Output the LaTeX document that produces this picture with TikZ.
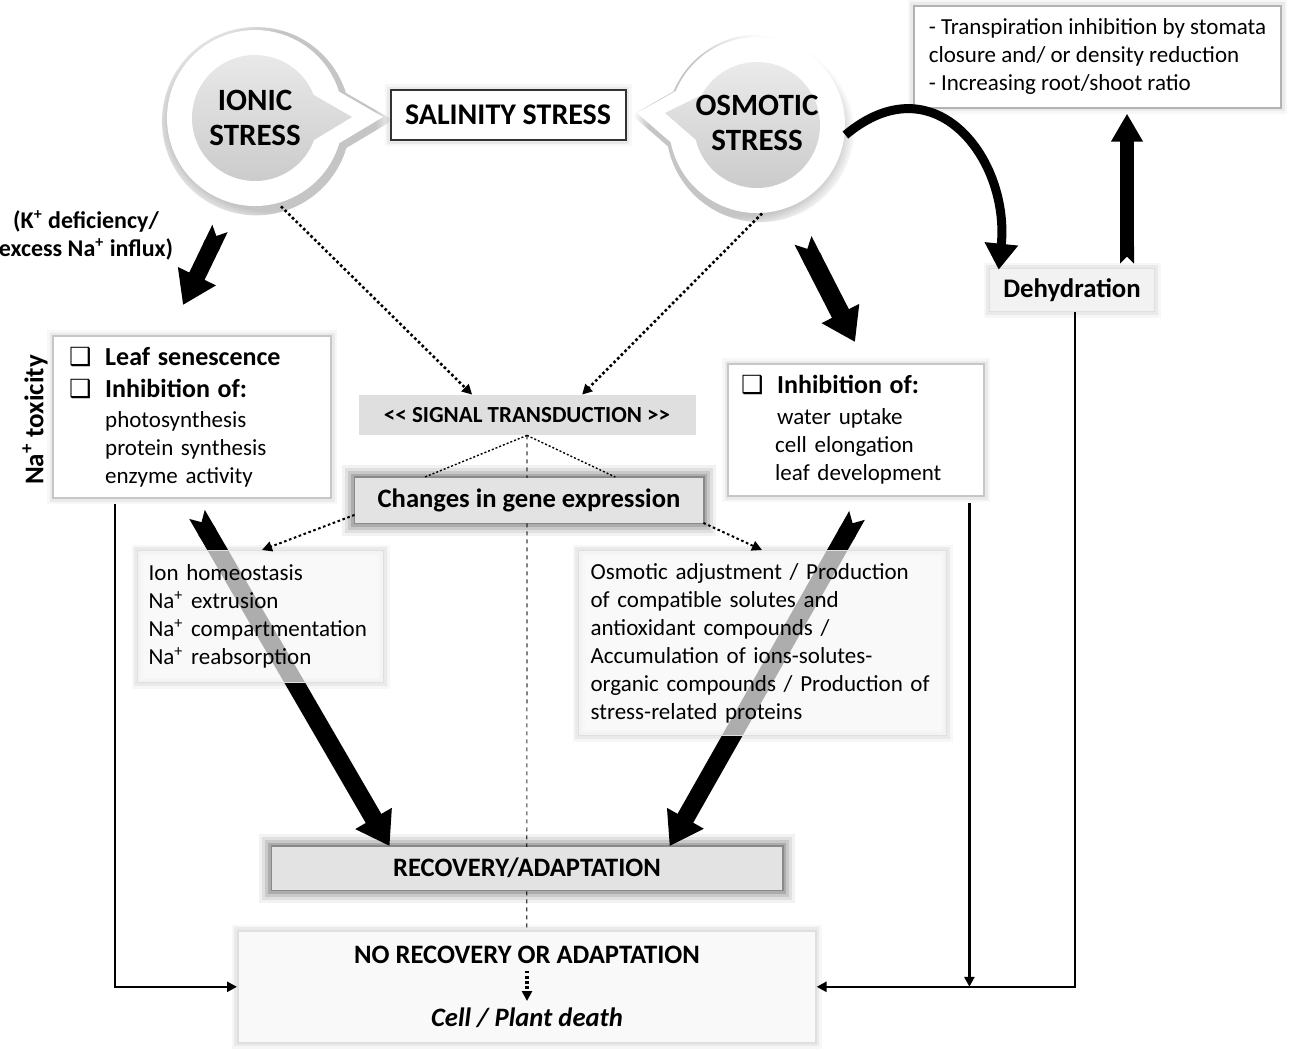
\documentclass[tikz,border=0pt]{standalone}
\usepackage{fontspec}
\setmainfont{Carlito}
\newfontfamily\symfont{DejaVu Sans}
\usetikzlibrary{arrows.meta,shapes.callouts,shadows}
\pgfdeclarelayer{background}
\pgfsetlayers{background,main}

\newcommand{\fnorm}{\fontsize{11.5}{14}\selectfont}
\newcommand{\fhead}{\fontsize{13}{15}\selectfont\bfseries}
\newcommand{\fcirc}{\fontsize{15.5}{17.5}\selectfont\bfseries}
\newcommand{\fbig}{\fontsize{13.3}{15}\selectfont\bfseries}
\newcommand{\chk}{\makebox[18pt][l]{\symfont\fontsize{12.5}{12}\selectfont ❑}}
\newcommand{\plus}{\textsuperscript{+}}

\begin{document}
\begin{tikzpicture}[x=0.5pt, y=-0.5pt, font=\fnorm,
  softglow/.style={preaction={draw=black, opacity=0.03, line width=6pt}, preaction={draw=black, opacity=0.05, line width=3.5pt}},
  darkglow/.style={preaction={draw=black, opacity=0.05, line width=13pt}, preaction={draw=black, opacity=0.07, line width=10pt}, preaction={draw=black, opacity=0.1, line width=7pt}, preaction={draw=black, opacity=0.14, line width=4pt}, preaction={draw=black, opacity=0.2, line width=1.5pt}},
  bubble/.style={ellipse callout, fill=white, minimum width=88pt, minimum height=88pt, inner sep=0pt, callout pointer arc=34, circular drop shadow={shadow xshift=1pt, shadow yshift=-1.5pt, shadow scale=1.07, opacity=0.45}},
  ball/.style={ellipse callout, minimum width=63pt, minimum height=63pt, inner sep=0pt, callout pointer arc=42, top color=gray!16, bottom color=gray!42},
  textbox/.style={draw=gray!45, line width=1.2pt, fill=white, anchor=north west, align=left, inner ysep=0pt, softglow},
  greybox/.style={fill=gray!22, font=\fbig, darkglow},
  lightbox/.style={draw=gray!25, line width=0.6pt, fill=gray!6, fill opacity=0.7, text opacity=1, anchor=north west, align=left, inner ysep=0pt, softglow},
  fatarrow/.style={line width=8.5pt, {Triangle Cap[reversed]}-{Triangle[width=20pt,length=16pt]}},
  dotarrow/.style={line width=1.3pt, dash pattern=on 1.3pt off 1.3pt, -{Triangle[width=5pt,length=5pt]}},
  thindot/.style={line width=0.7pt, dash pattern=on 1pt off 1pt},
  link/.style={line width=1.3pt, -{Triangle[width=5pt,length=5pt]}}]
  \useasboundingbox (0,0) rectangle (1299,1049);

  % Stress bubbles
  \node[bubble, callout absolute pointer={(383,117)}] (ionic) at (255,118) {};
  \node[ball, callout absolute pointer={(352,117)}] (ionicball) at (255,118) {};
  \node[font=\fcirc, align=center] (ionictext) at (255,118) {IONIC\\STRESS};
  \node[bubble, callout absolute pointer={(637,113)}] (osmotic) at (757,125) {};
  \node[ball, callout absolute pointer={(665,113)}] (osmoticball) at (757,125) {};
  \node[font=\fcirc, align=center] (osmotictext) at (757,123) {OSMOTIC\\STRESS};
  \node[draw=black!80, line width=1pt, fill=white, minimum width=117.5pt, minimum height=25pt, font=\fontsize{15}{17}\selectfont\bfseries, softglow] (salinity) at (508,115) {SALINITY STRESS};

  % Right column
  \node[textbox, draw=gray!60, line width=0.8pt, inner xsep=7.5pt, minimum height=51pt] (transp) at (913,5) {- Transpiration inhibition by stomata\\closure and/ or density reduction\\- Increasing root/shoot ratio};
  \node[fill=gray!10, draw=gray!25, line width=0.8pt, minimum width=82.5pt, minimum height=21.5pt, font=\fontsize{13.4}{15}\selectfont\bfseries, softglow] (dehyd) at (1072,290) {Dehydration};

  % Left column
  \node[align=center, font=\fontsize{12}{14}\selectfont\bfseries] (kdef) at (86,235) {(K\plus{} deficiency/\\excess Na\plus{} influx)};
  \node[rotate=90, font=\fontsize{13.5}{15}\selectfont\bfseries] (natox) at (35,420) {Na\plus{} toxicity};
  \node[textbox, text width=123pt, inner xsep=8pt, minimum height=81pt] (leaf) at (52,335) {{\fhead\chk Leaf senescence}\\[2pt]
    {\fhead\chk Inhibition of:}\\[1pt]
    \hspace*{18pt}photosynthesis\\
    \hspace*{18pt}protein synthesis\\
    \hspace*{18pt}enzyme activity};
  \node[textbox, text width=115pt, inner xsep=6.5pt, minimum height=66pt] (inhib) at (727,363) {{\fhead\chk Inhibition of:}\\[1.5pt]
    \hspace*{18pt}water uptake\\
    \hspace*{17pt}cell elongation\\
    \hspace*{17pt}leaf development};

  % Centre
  \node[fill=gray!25, minimum width=168.5pt, minimum height=20pt, font=\fontsize{11.5}{13}\selectfont\bfseries] (signal) at (527,415) {<\kern0pt< SIGNAL TRANSDUCTION >\kern0pt>};
  \node[greybox, minimum width=174pt, minimum height=22.5pt] (genes) at (529,500) {Changes in gene expression};
  \node[lightbox, text width=112pt, inner xsep=5.5pt, minimum height=66pt] (ionhom) at (137,550) {Ion homeostasis\\Na\plus{} extrusion\\Na\plus{} compartmentation\\Na\plus{} reabsorption};
  \node[lightbox, text width=172pt, inner xsep=6pt, minimum height=92.5pt] (osmadj) at (578,550) {Osmotic adjustment / Production\\of compatible solutes and\\antioxidant compounds /\\Accumulation of ions-solutes-\\organic compounds / Production of\\stress-related proteins};
  \node[greybox, minimum width=255pt, minimum height=21.5pt] (recov) at (527,868) {RECOVERY/ADAPTATION};
  \node[draw=gray!25, line width=0.8pt, fill=gray!5, minimum width=289pt, minimum height=56pt, anchor=north west, softglow] (norec) at (237,930) {};
  \node[font=\fbig] (norectitle) at (527,955) {NO RECOVERY OR ADAPTATION};
  \node[font=\fbig\itshape] (death) at (527,1018) {Cell / Plant death};

  \begin{pgfonlayer}{background}
    \fill[white] (0,0) rectangle (1299,1049);
    \draw[line width=0.6pt, gray!50!black, dash pattern=on 2pt off 2pt] (signal.south) -- (norec.north);
    \draw[fatarrow, line width=9pt] ([xshift=72.5pt,yshift=-7.5pt]leaf.south west) -- ([xshift=59pt]recov.north west);
    \draw[fatarrow, line width=9pt] ([xshift=65pt,yshift=-9pt]inhib.south west) -- ([xshift=199pt]recov.north west);
  \end{pgfonlayer}

  % Block arrows
  \draw[fatarrow] ([xshift=-17.5pt,yshift=-11pt]ionic.south) -- ([xshift=65.5pt,yshift=15pt]leaf.north west);
  \draw[fatarrow, line width=9.5pt] ([xshift=23pt,yshift=-13.5pt]osmotic.south) -- ([xshift=64pt,yshift=10.5pt]inhib.north west);
  \draw[fatarrow, line width=7pt, {Triangle Cap[reversed]}-{Triangle[width=15pt,length=14pt]}] ([xshift=27.5pt,yshift=2pt]dehyd.north) -- ([xshift=107pt,yshift=-2.5pt]transp.south west);
  \draw[line width=4.5pt, -{Triangle[width=16pt,length=13pt]}] ([yshift=-5pt]osmotic.east) .. controls (935,60) and (1010,160) .. ([xshift=5pt,yshift=-1pt]dehyd.north west);

  % Dotted arrows
  \draw[dotarrow] ([xshift=13pt]ionic.south) -- ([xshift=57pt]signal.north west);
  \draw[dotarrow] ([xshift=2.5pt]osmotic.south) -- ([xshift=112pt]signal.north west);
  \draw[thindot] (signal.south) -- ([xshift=35pt]genes.north west);
  \draw[thindot] (signal.south) -- ([xshift=-44pt]genes.north east);
  \draw[dotarrow, line width=1pt] ([yshift=4pt]genes.south west) -- ([xshift=62.5pt]ionhom.north west);
  \draw[dotarrow, line width=1pt] (genes.south east) -- ([xshift=92pt]osmadj.north west);
  \draw[dotarrow, line width=1.6pt] (norectitle) -- (death);

  % Lines to no recovery
  \draw[link] ([xshift=31.5pt,yshift=-2.5pt]leaf.south west) |- (norec.west);
  \draw[link] ([xshift=-8pt,yshift=-3pt]inhib.south east) -- ([xshift=-8pt]inhib.south east |- norec.east);
  \draw[link] ([xshift=1.5pt]dehyd.south) |- (norec.east);
\end{tikzpicture}
\end{document}
